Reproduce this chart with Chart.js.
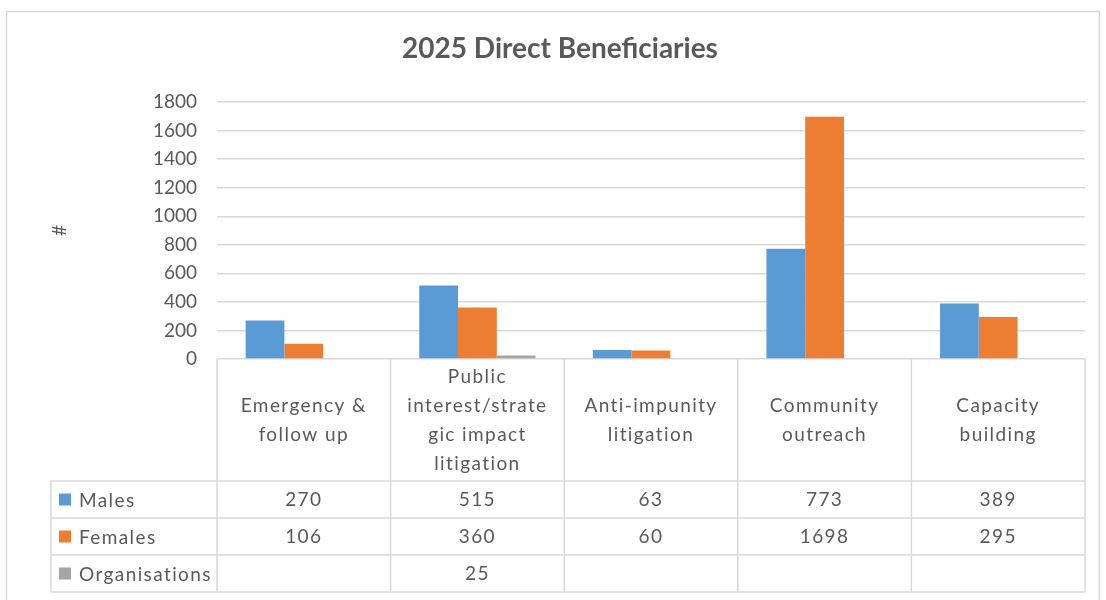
<!DOCTYPE html>
<html>
<head>
<meta charset="utf-8">
<script src="https://cdn.jsdelivr.net/npm/chart.js@4"></script>
<style>
  body { margin: 0; background: #fff; }
</style>
</head>
<body>
<canvas id="myBar" width="1106" height="600"></canvas>
<script>
const categories = [
  ["Emergency &", "follow up"],
  ["Public", "interest/strate", "gic impact", "litigation"],
  ["Anti-impunity", "litigation"],
  ["Community", "outreach"],
  ["Capacity", "building"]
];
const males = [270, 515, 63, 773, 389];
const females = [106, 360, 60, 1698, 295];
const organisations = [null, 25, null, null, null];
const seriesNames = ["Males", "Females", "Organisations"];
const seriesColors = ["#5B9BD5", "#ED7D31", "#A5A5A5"];
const yMax = 1800;
const yStep = 200;

const textColor = "#595959";
const lineColor = "#d9d9d9";
const fontFamily = "Lato, 'Open Sans', sans-serif";

// data table under the plot, drawn from the x scale
const dataTable = {
  id: "dataTable",
  afterDraw(chart) {
    const ctx = chart.ctx;
    const area = chart.chartArea;
    const n = categories.length;
    const step = (area.right - area.left) / n;
    const headerBottom = area.bottom + 122;
    const rowH = 37;
    const legendLeft = 51;
    const tableBottom = headerBottom + rowH * 3;

    ctx.save();
    ctx.strokeStyle = lineColor;
    ctx.lineWidth = 1.5;
    ctx.beginPath();
    for (let r = 0; r <= 3; r++) {
      const y = headerBottom + r * rowH;
      ctx.moveTo(legendLeft, y);
      ctx.lineTo(area.right, y);
    }
    for (let i = 0; i <= n; i++) {
      const x = area.left + i * step;
      ctx.moveTo(x, area.bottom);
      ctx.lineTo(x, tableBottom);
    }
    ctx.moveTo(legendLeft, headerBottom);
    ctx.lineTo(legendLeft, tableBottom);
    ctx.stroke();

    ctx.fillStyle = textColor;
    ctx.font = "19px " + fontFamily;
    ctx.letterSpacing = "1.4px";
    ctx.textAlign = "center";
    ctx.textBaseline = "middle";
    const lineH = 29;
    const headerMid = (area.bottom + headerBottom) / 2;
    categories.forEach((lines, i) => {
      const x = chart.scales.x.getPixelForValue(i);
      const y0 = headerMid - (lines.length - 1) * lineH / 2;
      lines.forEach((t, j) => ctx.fillText(t, x, y0 + j * lineH));
    });

    chart.data.datasets.forEach((ds, r) => {
      const yMid = headerBottom + r * rowH + rowH / 2;
      ds.data.forEach((v, i) => {
        if (v === null) return;
        ctx.fillText(String(v), chart.scales.x.getPixelForValue(i), yMid);
      });
      ctx.fillStyle = ds.backgroundColor;
      ctx.fillRect(59, yMid - 6, 12, 12);
      ctx.fillStyle = textColor;
      ctx.textAlign = "left";
      ctx.fillText(ds.label, 79, yMid + 1);
      ctx.textAlign = "center";
    });

    // outer chart border
    ctx.strokeStyle = lineColor;
    ctx.lineWidth = 1.5;
    ctx.strokeRect(6.5, 11.5, 1093, 620);
    ctx.restore();
  }
};

const ctx = document.getElementById("myBar");

new Chart(ctx, {
  type: "bar",
  data: {
    labels: categories.map((c) => c.join(" ")),
    datasets: [
      { label: seriesNames[0], data: males, backgroundColor: seriesColors[0] },
      { label: seriesNames[1], data: females, backgroundColor: seriesColors[1] },
      { label: seriesNames[2], data: organisations, backgroundColor: seriesColors[2] }
    ]
  },
  options: {
    responsive: false,
    animation: false,
    devicePixelRatio: 1,
    layout: { padding: { top: 20, left: 35, right: 21, bottom: 241 } },
    datasets: {
      bar: { categoryPercentage: 0.67, barPercentage: 1, borderWidth: 0 }
    },
    plugins: {
      legend: { display: false },
      tooltip: { enabled: false },
      title: {
        display: true,
        text: "2025 Direct Beneficiaries",
        color: textColor,
        font: { family: fontFamily, size: 28, weight: "bold" },
        padding: { top: 12.5, bottom: 36 }
      }
    },
    scales: {
      x: { display: false },
      y: {
        min: 0,
        max: yMax,
        ticks: {
          stepSize: yStep,
          color: textColor,
          padding: 20,
          font: { family: fontFamily, size: 19 },
          callback: (v) => String(v)
        },
        grid: { color: lineColor, lineWidth: 1.5, drawTicks: false },
        border: { display: false },
        title: {
          display: true,
          text: "#",
          color: textColor,
          font: { family: fontFamily, size: 19 },
          padding: { top: 13.6 }
        },
        afterFit(scale) { scale.width = 182; }
      }
    }
  },
  plugins: [dataTable]
});
</script>
</body>
</html>
